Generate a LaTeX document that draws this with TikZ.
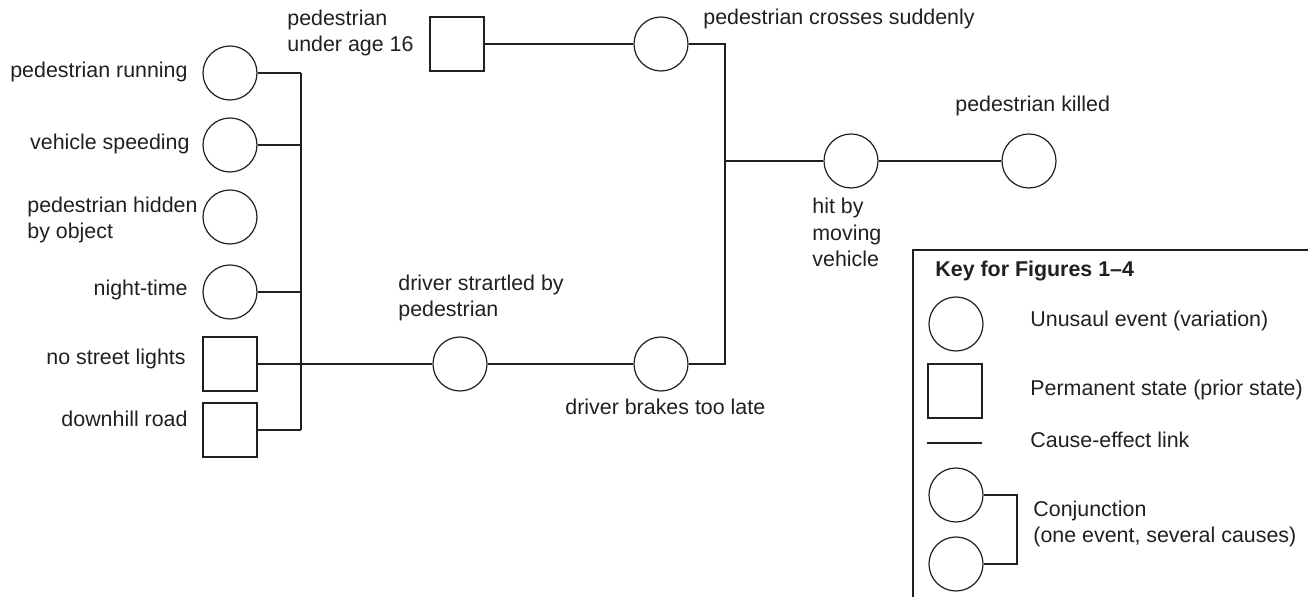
\documentclass[tikz,border=0pt]{standalone}
\usepackage{fontspec}
\setmainfont{Liberation Sans}
\usepackage{xcolor}
\usetikzlibrary{positioning}
\definecolor{inkgray}{HTML}{231F20}

\begin{document}
\begin{tikzpicture}[
  x=0.5pt, y=-0.5pt,
  font=\fontsize{10.7}{13.3}\selectfont, color=inkgray,
  event/.style={
    circle, draw=inkgray, line width=0.6pt, minimum size=27pt, inner sep=0pt
  },
  state/.style={
    rectangle, draw=inkgray, line width=0.6pt, minimum size=27pt, inner sep=0pt
  },
  lbl/.style={inner sep=0pt, align=left},
  link/.style={draw=inkgray, line width=0.6pt}
]
\useasboundingbox (0,0) rectangle (1308,597);

% causes on the left
\node[event] (run) at (230,73) {};
\node[event] (speed) at (230,145) {};
\node[event] (hide) at (230,217) {};
\node[event] (night) at (230,292) {};
\node[state] (nolight) at (230,364) {};
\node[state] (downhill) at (230,430) {};
\coordinate (ltop) at (301,73);
\coordinate (lbot) at (301,430);

\node[lbl, anchor=base east] (runlbl) at (188,78) {pedestrian running};
\node[lbl, anchor=base east] (speedlbl) at (190,150) {vehicle speeding};
\node[lbl, anchor=base west] (hidelbl) at (27,239) {pedestrian hidden\\by object};
\node[lbl, anchor=base east] (nightlbl) at (188,296) {night-time};
\node[lbl, anchor=base east] (nolightlbl) at (186,365) {no street lights};
\node[lbl, anchor=base east] (downhilllbl) at (188,427) {downhill road};

% middle chain
\node[state] (young) at (457,44) {};
\node[event] (cross) at (661,44) {};
\node[event] (startle) at (460,364) {};
\node[event] (brake) at (661,364) {};
\coordinate (rbus) at (725,161);

\node[lbl, anchor=base west] (younglbl) at (287,52) {pedestrian\\under age 16};
\node[lbl, anchor=base west] (crosslbl) at (703,25) {pedestrian crosses suddenly};
\node[lbl, anchor=base west] (startlelbl) at (398,317) {driver strartled by\\pedestrian};
\node[lbl, anchor=base west] (brakelbl) at (565,415) {driver brakes too late};

% outcome
\node[event] (hit) at (851,161) {};
\node[event] (killed) at (1029,161) {};
\node[lbl, anchor=base west] (hitlbl) at (812,267) {hit by\\moving\\vehicle};
\node[lbl, anchor=base west] (killedlbl) at (955,112) {pedestrian killed};

\draw[link] (ltop) -- (lbot);
\draw[link] (run) -- (ltop);
\draw[link] (speed) -- (speed -| ltop);
\draw[link] (night) -- (night -| ltop);
\draw[link] (downhill) -- (lbot);
\draw[link] (nolight) -- (startle);
\draw[link] (startle) -- (brake);
\draw[link] (young) -- (cross);
\draw[link] (cross) -| (rbus) |- (brake);
\draw[link] (rbus) -- (hit);
\draw[link] (hit) -- (killed);

% key
\coordinate (keycorner) at (913,250);
\draw[link] (913,600) -- (keycorner) -- (1312,250);
\node[lbl, anchor=base west, font=\fontsize{10.7}{13.3}\selectfont\bfseries]
  (keytitle) at (935,277) {Key for Figures 1--4};
\node[event] (keyev) at (956,324) {};
\node[state] (keyst) at (955,391) {};
\coordinate (keyla) at (927,443);
\coordinate (keylb) at (982,443);
\node[event] (keyc1) at (956,495) {};
\node[event] (keyc2) at (956,564) {};
\coordinate (keyj) at (1017,530);

\draw[link] (keyla) -- (keylb);
\draw[link] (keyc1) -| (keyj) |- (keyc2);

\node[lbl, anchor=base west] (keyevlbl) at (1030,327) {Unusaul event (variation)};
\node[lbl, anchor=base west] (keystlbl) at (1030,396) {Permanent state (prior state)};
\node[lbl, anchor=base west] (keylinklbl) at (1030,448) {Cause-effect link};
\node[lbl, anchor=base west] (keyconlbl) at (1033,543) {Conjunction\\(one event, several causes)};
\end{tikzpicture}
\end{document}
